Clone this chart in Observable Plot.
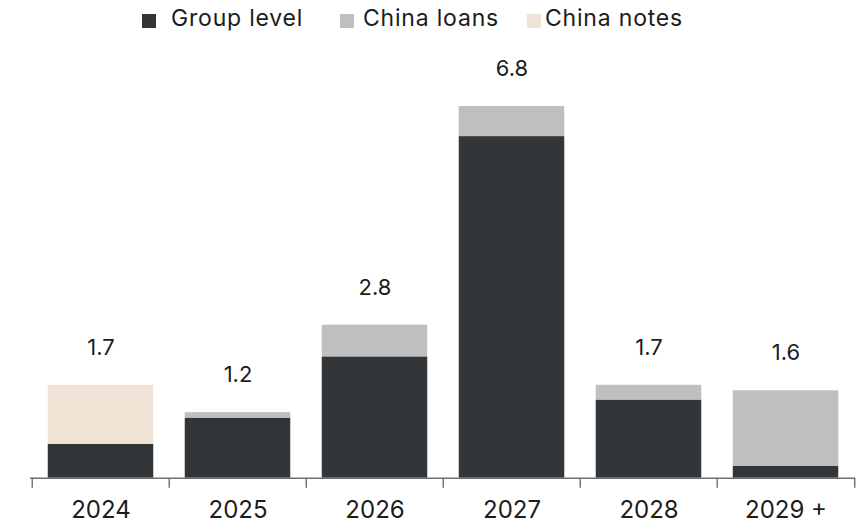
<!DOCTYPE html>
<html><head><meta charset="utf-8">
<script src="https://cdn.jsdelivr.net/npm/d3@7"></script>
<script src="https://cdn.jsdelivr.net/npm/@observablehq/plot@0.6"></script>
<style>
body{margin:0;background:#fff;font-family:Inter,"Noto Sans",sans-serif;color:#1c1c1c}
#wrap{position:relative;width:859px;height:523px;overflow:hidden}
#legend{position:relative;height:40px}
#legend .sq{position:absolute;top:14px;width:14px;height:14px}
#legend .lab{position:absolute;top:4px;font-size:23px;line-height:28px;letter-spacing:0.8px;white-space:nowrap}
svg{display:block}
</style></head>
<body>
<div id="wrap">
  <div id="legend"></div>
  <div id="chart"></div>
</div>
<script>
const categories = ["2024", "2025", "2026", "2027", "2028", "2029 +"];
const seriesNames = ["Group level", "China loans", "China notes"];
const seriesColors = ["#323639", "#bfbfbf", "#efe3d6"];
const groupLevel = [0.62, 1.10, 2.22, 6.25, 1.43, 0.22];
const chinaLoans = [0.00, 0.10, 0.58, 0.55, 0.27, 1.38];
const chinaNotes = [1.08, 0.00, 0.00, 0.00, 0.00, 0.00];
const totals = [1.7, 1.2, 2.8, 6.8, 1.7, 1.6];
const totalLabels = ["1.7", "1.2", "2.8", "6.8", "1.7", "1.6"];

const seriesValues = [groupLevel, chinaLoans, chinaNotes];
const rows = [];
categories.forEach((c, i) => {
  seriesNames.forEach((s, j) => rows.push({cat: c, series: s, value: seriesValues[j][i]}));
});
const labelRows = categories.map((c, i) => ({cat: c, total: totals[i], text: totalLabels[i]}));

// legend
const legendPos = [{sq: 142, lab: 171}, {sq: 340, lab: 363}, {sq: 527, lab: 545}];
const legend = document.getElementById("legend");
seriesNames.forEach((s, j) => {
  const sq = document.createElement("div");
  sq.className = "sq"; sq.style.left = legendPos[j].sq + "px"; sq.style.background = seriesColors[j];
  const lab = document.createElement("div");
  lab.className = "lab"; lab.style.left = legendPos[j].lab + "px"; lab.textContent = s;
  legend.appendChild(sq); legend.appendChild(lab);
});

const axisColor = "#6e6e6e";
const step = (859 - 30 - 4) / categories.length;

const plot = Plot.plot({
  width: 859,
  height: 483,
  marginLeft: 30,
  marginRight: 4,
  marginTop: 55.1,
  marginBottom: 45.3,
  x: {domain: categories, padding: 0, label: null},
  y: {domain: [0, 7], axis: null},
  color: {domain: seriesNames, range: seriesColors},
  style: {fontFamily: 'Inter, "Noto Sans", sans-serif', color: "#1c1c1c", background: "transparent"},
  marks: [
    Plot.barY(rows, {x: "cat", y: "value", fill: "series", insetLeft: 15.75, insetRight: 15.75}),
    Plot.ruleY([0], {stroke: axisColor, strokeWidth: 1.4}),
    Plot.ruleX(categories, {x: d => d, y1: 0, y2: 0, insetBottom: -10, dx: -step / 2, stroke: axisColor, strokeWidth: 1.4}),
    Plot.ruleX([categories[categories.length - 1]], {x: d => d, y1: 0, y2: 0, insetBottom: -10, dx: step / 2, stroke: axisColor, strokeWidth: 1.4}),
    Plot.axisX({tickSize: 0, tickPadding: 22.5, fontSize: 24, label: null, fill: "#1c1c1c", style: {letterSpacing: "0.9px"}}),
    Plot.text(labelRows, {x: "cat", y: "total", text: "text", dy: -30.5, lineAnchor: "bottom", fontSize: 22, fill: "#1c1c1c", style: {letterSpacing: "0.5px"}})
  ]
});
document.getElementById("chart").appendChild(plot);
</script>
</body></html>
